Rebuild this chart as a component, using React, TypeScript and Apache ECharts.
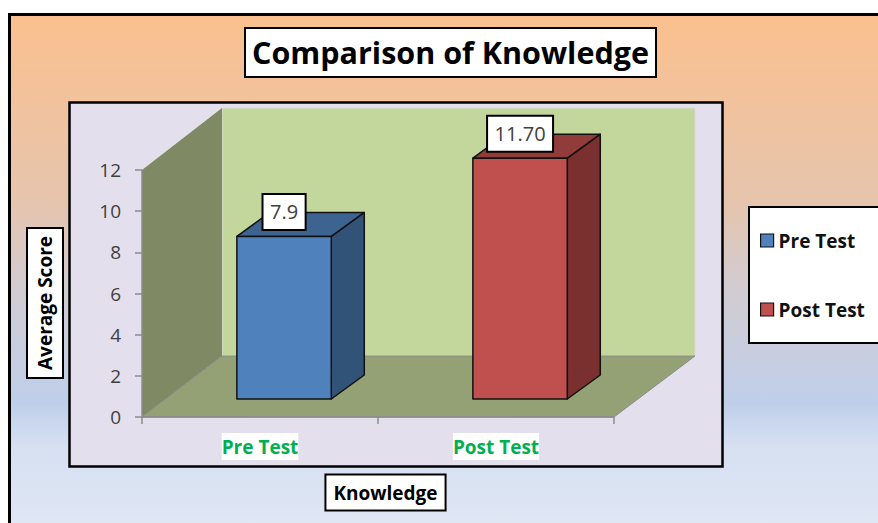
import React, { useEffect, useRef } from "react";
import * as echarts from "echarts";

const categories = ["Pre Test", "Post Test"];
const preTest = [7.9, null];
const postTest = [null, 11.7];
const preLabels = ["7.9", ""];
const postLabels = ["", "11.70"];
const yTicks = { min: 0, max: 12, interval: 2 };
const titleText = "Comparison of Knowledge";
const yName = "Average Score";
const xName = "Knowledge";

const FONT = "'Open Sans', Lato, sans-serif";
const DEPTH_X = 33;
const DEPTH_Y = 24;
const WALL_DX = 80;
const WALL_DY = 61;

function barRenderer(front: string, side: string, top: string, labels: string[]) {
  return (params: any, api: any) => {
    const idx = api.value(0);
    const val = api.value(1);
    if (val == null || isNaN(val)) return null;
    const base = api.coord([idx, 0]);
    const head = api.coord([idx, val]);
    const band = api.size([1, 0])[0];
    const w = band * 0.4;
    const x0 = base[0] + band * 0.102 - w / 2 + 0;
    const x1 = x0 + w;
    const yb = base[1] - 18;
    const yt = head[1] - 18;
    const stroke = { stroke: "#111", lineWidth: 1.5, lineJoin: "round" };
    return {
      type: "group",
      children: [
        {
          type: "polygon",
          shape: { points: [[x1, yb], [x1 + DEPTH_X, yb - DEPTH_Y], [x1 + DEPTH_X, yt - DEPTH_Y], [x1, yt]] },
          style: { fill: side, ...stroke },
        },
        {
          type: "polygon",
          shape: { points: [[x0, yt], [x0 + DEPTH_X, yt - DEPTH_Y], [x1 + DEPTH_X, yt - DEPTH_Y], [x1, yt]] },
          style: { fill: top, ...stroke },
        },
        {
          type: "rect",
          shape: { x: x0, y: yt, width: w, height: yb - yt },
          style: { fill: front, ...stroke },
        },
        {
          type: "text",
          x: (x0 + x1) / 2,
          y: yt - 24.5,
          style: {
            text: labels[idx],
            align: "center",
            verticalAlign: "middle",
            fontFamily: FONT,
            fontSize: 20,
            lineHeight: 20,
            fill: "#404040",
            backgroundColor: "#fff",
            borderColor: "#000",
            borderWidth: 2,
            padding: [7, 6.5, 7, 6.5],
          },
        },
      ],
    };
  };
}

export default function App() {
  const ref = useRef<HTMLDivElement>(null);
  useEffect(() => {
    document.body.style.margin = "0";
    const chart = echarts.init(ref.current!, undefined, { renderer: "svg" });
    const gx = 142, gy = 170, gw = 472, gh = 247;
    const floorY = gy + gh;
    const axisGray = "#8c8c8c";
    chart.setOption({
      animation: false,
      backgroundColor: "#ffffff",
      title: {
        text: titleText,
        left: 245,
        top: 28,
        backgroundColor: "#fff",
        borderColor: "#000",
        borderWidth: 2,
        padding: [6, 7, 7, 7],
        textStyle: { fontFamily: FONT, fontWeight: "bold", fontSize: 30.5, lineHeight: 36, color: "#000" },
      },
      legend: {
        orient: "vertical",
        left: 749,
        top: 207,
        width: 140,
        height: 135,
        backgroundColor: "#fff",
        borderColor: "#000",
        borderWidth: 2,
        padding: [21, 40, 21, 11],
        itemWidth: 13,
        itemHeight: 13,
        itemGap: 44,
        textStyle: { fontFamily: FONT, fontWeight: "bold", fontSize: 19, lineHeight: 25, color: "#111", padding: [0, 0, 0, 0] },
        data: [
          { name: "Pre Test", icon: "rect", itemStyle: { color: "#4F81BD", borderColor: "#111", borderWidth: 1.2 } },
          { name: "Post Test", icon: "rect", itemStyle: { color: "#C0504D", borderColor: "#111", borderWidth: 1.2 } },
        ],
      },
      grid: { left: gx, top: gy, width: gw, height: gh },
      xAxis: {
        type: "category",
        data: categories,
        axisLine: { show: true, lineStyle: { color: axisGray, width: 1.5 } },
        axisTick: { show: true, alignWithLabel: false, length: 7, lineStyle: { color: axisGray, width: 1.5 } },
        axisLabel: {
          margin: 16,
          fontFamily: FONT,
          fontWeight: "bold",
          fontSize: 19,
          lineHeight: 27,
          color: "#00B050",
          backgroundColor: "#fff",
          padding: [0, 0, 0, 0],
        },
      },
      yAxis: {
        type: "value",
        min: yTicks.min,
        max: yTicks.max,
        interval: yTicks.interval,
        splitLine: { show: false },
        axisLine: { show: true, lineStyle: { color: axisGray, width: 1.5 } },
        axisTick: { show: true, length: 7, lineStyle: { color: axisGray, width: 1.5 } },
        axisLabel: { margin: 21, fontFamily: FONT, fontSize: 19, color: "#404040" },
      },
      graphic: [
        {
          type: "rect",
          z: -10,
          shape: { x: 9.5, y: 14.5, width: 900, height: 540 },
          style: {
            stroke: "#000",
            lineWidth: 3,
            fill: new echarts.graphic.LinearGradient(0, 0, 0, 1, [
              { offset: 0, color: "#FBC08E" },
              { offset: 0.35, color: "#E6C5AE" },
              { offset: 0.5, color: "#D2CBD0" },
              { offset: 0.72, color: "#BFCFEA" },
              { offset: 0.8, color: "#D6E0F1" },
              { offset: 1, color: "#E3E9F6" },
            ]),
          },
        },
        {
          type: "rect",
          z: -9,
          shape: { x: 69.5, y: 102.5, width: 653, height: 364 },
          style: { fill: "#E4DFEC", stroke: "#000", lineWidth: 2.5 },
        },
        {
          type: "polygon",
          z: -8,
          shape: { points: [[gx + WALL_DX, floorY - WALL_DY - 248], [gx + WALL_DX + gw + 1, floorY - WALL_DY - 248], [gx + WALL_DX + gw + 1, floorY - WALL_DY], [gx + WALL_DX, floorY - WALL_DY]] },
          style: { fill: "#C3D69B", stroke: "#D9D9D9", lineWidth: 1 },
        },
        {
          type: "polygon",
          z: -7,
          shape: { points: [[gx, gy], [gx + WALL_DX, gy - WALL_DY - 1], [gx + WALL_DX, floorY - WALL_DY], [gx, floorY]] },
          style: { fill: "#7F8A65" },
        },
        {
          type: "polygon",
          z: -6,
          shape: { points: [[gx, floorY], [gx + WALL_DX, floorY - WALL_DY], [gx + WALL_DX + gw + 1, floorY - WALL_DY], [gx + gw, floorY]] },
          style: { fill: "#93A174", stroke: axisGray, lineWidth: 1 },
        },
        {
          type: "text",
          z: 10,
          x: 45,
          y: 303,
          rotation: Math.PI / 2,
          style: {
            text: yName,
            align: "center",
            verticalAlign: "middle",
            fontFamily: FONT,
            fontWeight: "bold",
            fontSize: 19,
            lineHeight: 22,
            fill: "#000",
            backgroundColor: "#fff",
            borderColor: "#000",
            borderWidth: 2,
            padding: [6, 7, 6, 7],
          },
        },
        {
          type: "text",
          z: 10,
          x: 385.5,
          y: 492.5,
          style: {
            text: xName,
            align: "center",
            verticalAlign: "middle",
            fontFamily: FONT,
            fontWeight: "bold",
            fontSize: 19,
            lineHeight: 22,
            fill: "#000",
            backgroundColor: "#fff",
            borderColor: "#000",
            borderWidth: 2,
            padding: [6, 7, 6, 7],
          },
        },
      ],
      series: [
        {
          name: "Pre Test",
          type: "custom",
          itemStyle: { color: "#4F81BD" },
          renderItem: barRenderer("#4F81BD", "#325378", "#3D6390", preLabels),
          encode: { x: 0, y: 1 },
          data: preTest.map((v, i) => [i, v]),
          z: 5,
        },
        {
          name: "Post Test",
          type: "custom",
          itemStyle: { color: "#C0504D" },
          renderItem: barRenderer("#C0504D", "#79302E", "#913C3A", postLabels),
          encode: { x: 0, y: 1 },
          data: postTest.map((v, i) => [i, v]),
          z: 5,
        },
      ],
    });
    return () => chart.dispose();
  }, []);
  return <div ref={ref} style={{ width: 878, height: 523 }} />;
}
